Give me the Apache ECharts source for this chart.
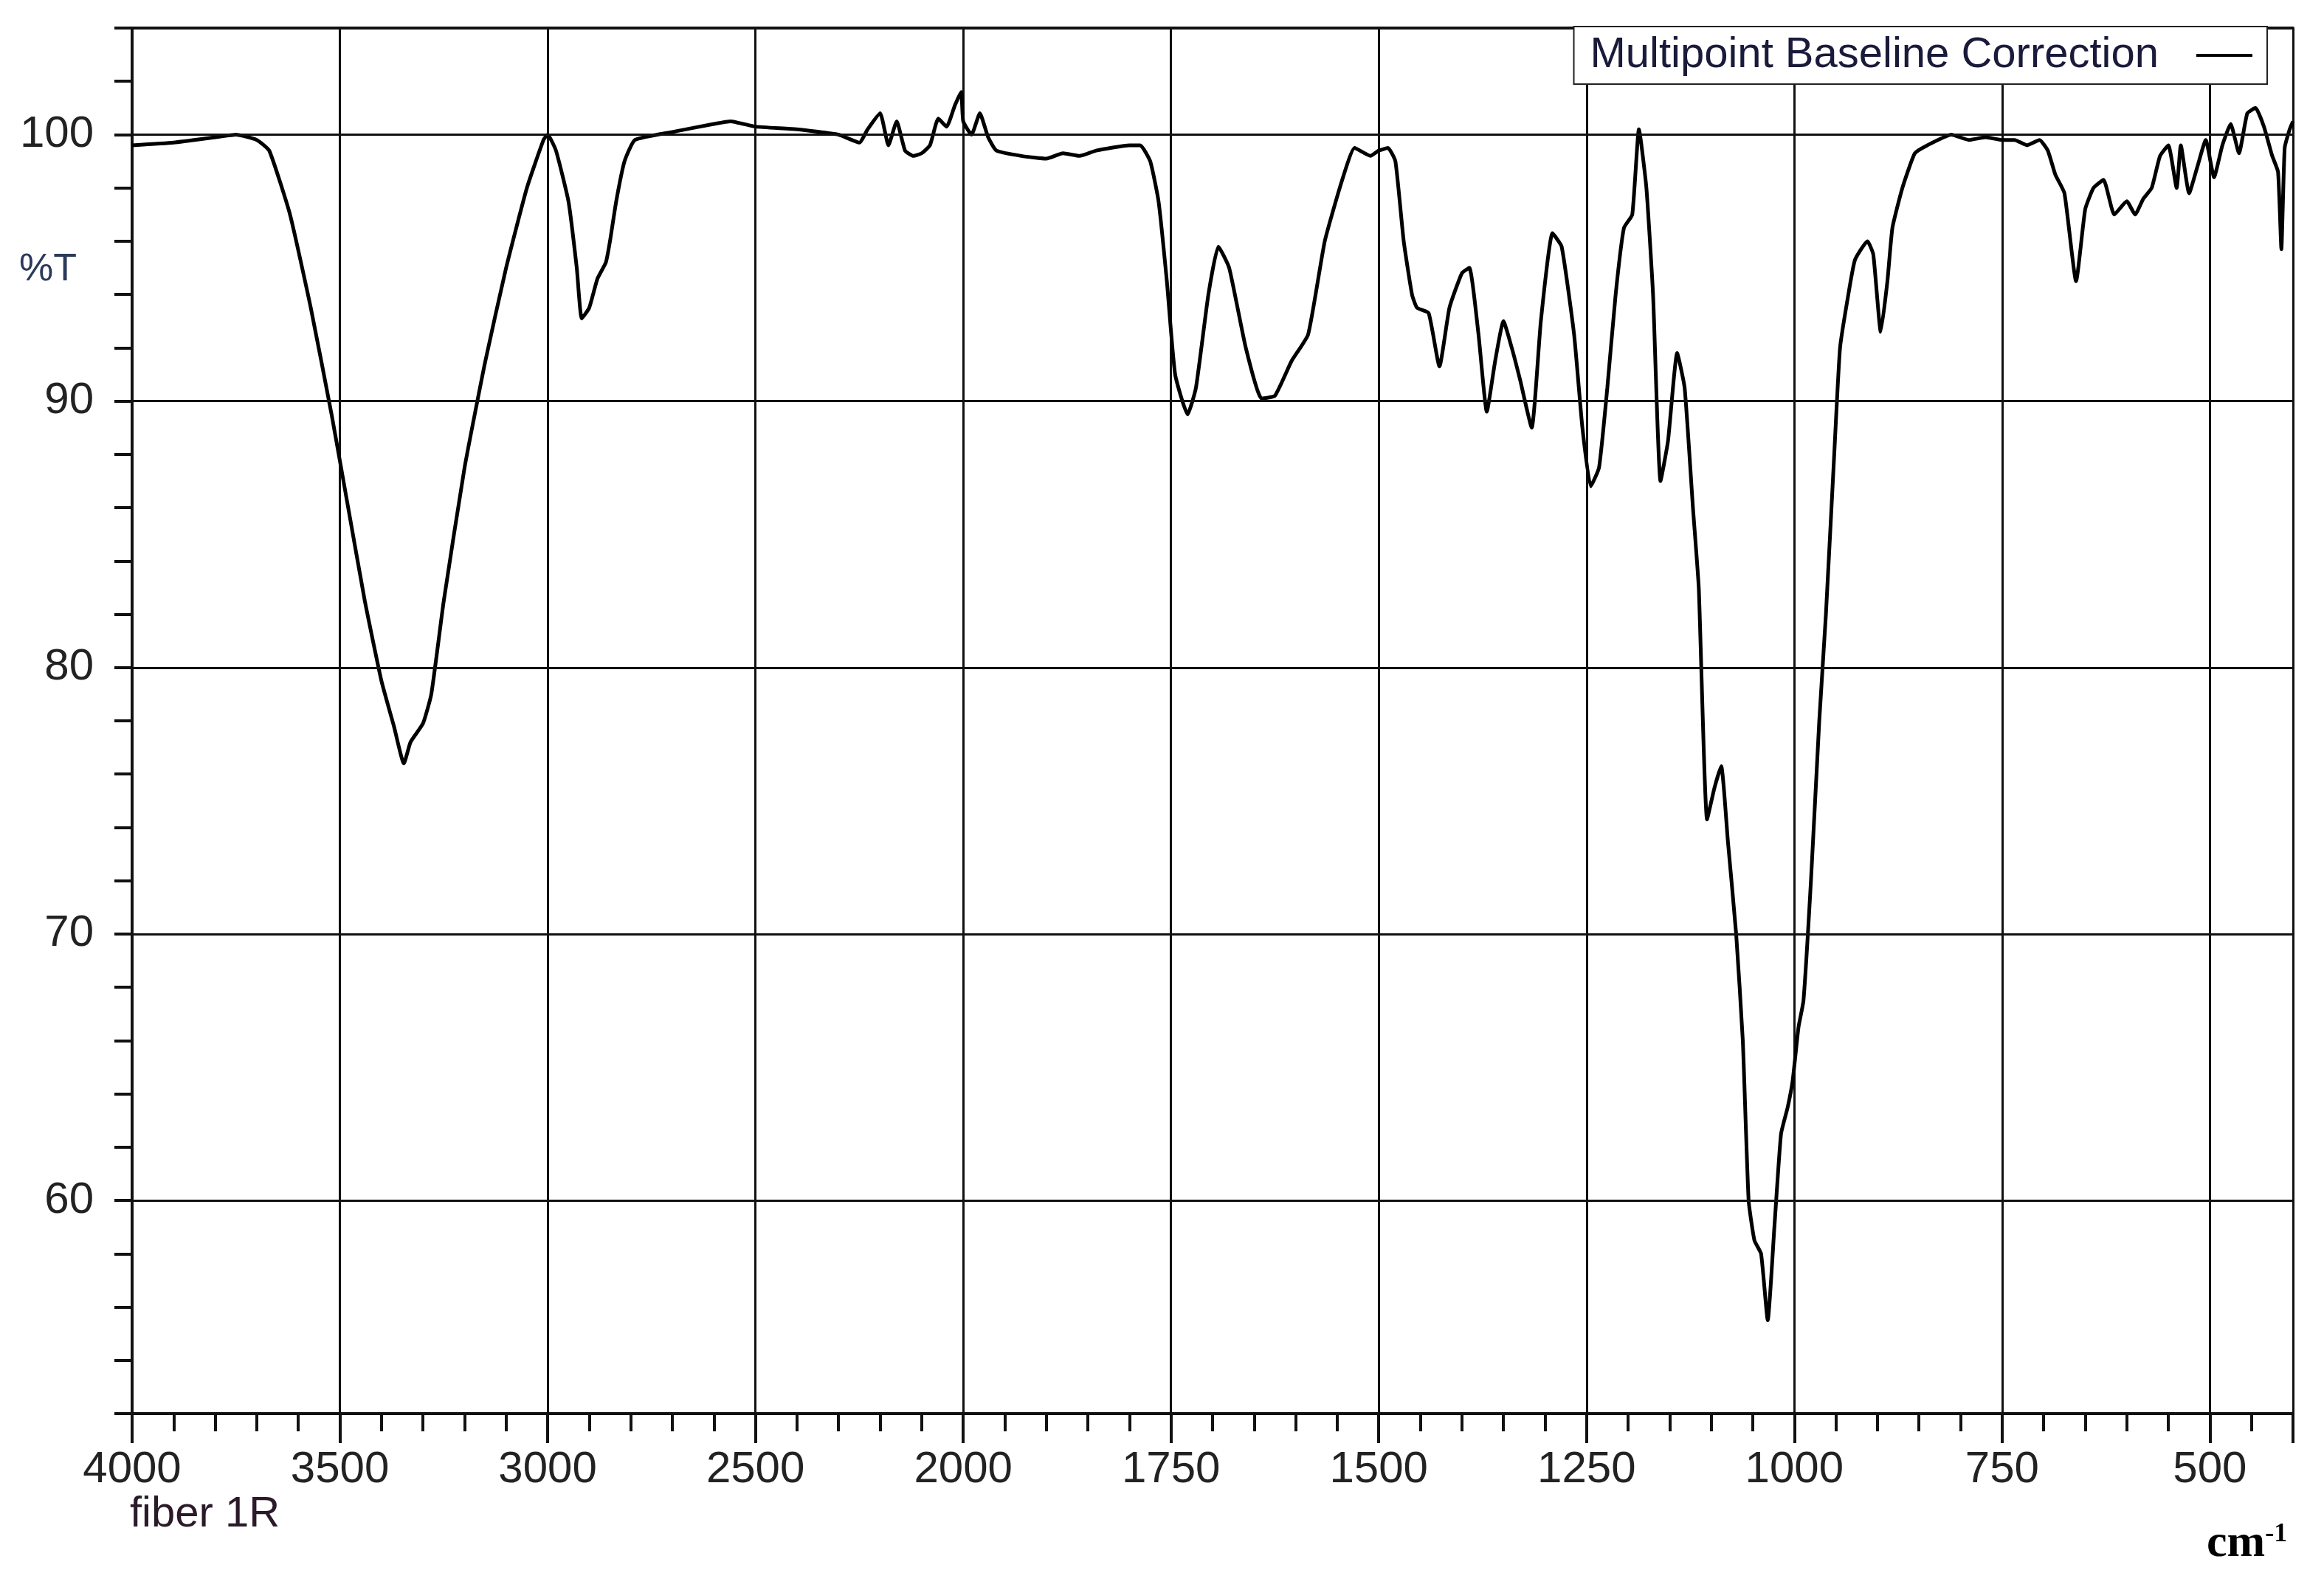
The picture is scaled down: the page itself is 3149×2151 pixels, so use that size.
<!DOCTYPE html>
<html>
<head>
<meta charset="utf-8">
<script src="https://cdn.jsdelivr.net/npm/echarts@6/dist/echarts.min.js"></script>
<style>
  html, body { margin: 0; padding: 0; background: #fff; }
  #chart { width: 3149px; height: 2151px; }
</style>
</head>
<body>
<div id="chart"></div>
<script>
// wavenumber (cm-1) and transmittance (%T)
const wavenumbers = [
  4000, 3900, 3800, 3750, 3700, 3670, 3620, 3570, 3520, 3480, 3440, 3400, 3370, 3346, 3330, 3300, 3280, 3250, 3200, 3150,
  3100, 3050, 3010, 3000, 2980, 2950, 2930, 2918, 2900, 2880, 2860, 2850, 2835, 2815, 2790, 2700, 2600, 2560, 2500, 2400,
  2300, 2250, 2230, 2200, 2180, 2160, 2140, 2120, 2100, 2080, 2060, 2040, 2020, 2005, 2000, 1990, 1980, 1970, 1960, 1930,
  1900, 1880, 1860, 1840, 1800, 1787, 1775, 1765, 1755, 1745, 1730, 1720, 1705, 1693, 1680, 1660, 1641, 1625, 1605, 1585,
  1565, 1545, 1529, 1510, 1500, 1489, 1480, 1470, 1460, 1454, 1440, 1427, 1415, 1400, 1391, 1380, 1370, 1360, 1350, 1340,
  1330, 1316, 1305, 1291, 1280, 1265, 1255, 1245, 1235, 1225, 1215, 1205, 1195, 1187, 1178, 1170, 1161, 1152, 1141, 1132,
  1122, 1115, 1105, 1096, 1088, 1080, 1070, 1062, 1055, 1048, 1040, 1032, 1024, 1016, 1008, 1002, 995, 989, 980, 970,
  962, 952, 945, 935, 927, 912, 905, 896, 888, 882, 870, 855, 840, 811, 790, 770, 750, 735, 720, 705,
  695, 686, 675, 661, 650, 640, 628, 615, 600, 590, 580, 570, 560, 550, 540, 535, 525, 515, 505, 495,
  485, 475, 465, 455, 445, 435, 425, 418, 414, 410, 404, 400
];
const transmittance = [
  99.6, 99.7, 99.9, 100.0, 99.8, 99.4, 97.0, 93.5, 89.5, 86.0, 82.5, 79.5, 77.8, 76.4, 77.2, 77.9, 79.0, 82.5, 87.5, 91.5,
  95.0, 98.0, 99.8, 100.0, 99.4, 97.5, 95.0, 93.1, 93.5, 94.6, 95.2, 96.0, 97.5, 99.0, 99.8, 100.1, 100.4, 100.5, 100.3, 100.2,
  100.0, 99.7, 100.2, 100.8, 99.6, 100.5, 99.4, 99.2, 99.3, 99.6, 100.6, 100.3, 101.1, 101.6, 100.5, 100.0, 100.8, 99.9, 99.4, 99.2,
  99.1, 99.3, 99.2, 99.4, 99.6, 99.6, 99.0, 97.5, 94.5, 91.0, 89.5, 90.5, 94.0, 95.8, 95.0, 92.0, 90.1, 90.2, 91.5, 92.5,
  96.0, 98.2, 99.5, 99.2, 99.4, 99.5, 99.0, 96.0, 94.0, 93.5, 93.3, 91.3, 93.5, 94.8, 95.0, 92.5, 89.6, 91.5, 93.0, 92.0,
  90.8, 89.0, 93.0, 96.3, 95.8, 92.5, 89.0, 86.8, 87.5, 90.5, 94.0, 96.5, 97.0, 100.2, 98.0, 94.0, 87.0, 88.5, 91.8, 90.5,
  86.0, 83.0, 74.3, 75.5, 76.3, 73.5, 70.0, 66.0, 60.0, 58.5, 58.0, 55.5, 59.0, 62.5, 63.5, 64.5, 66.5, 67.5, 72.0, 78.0,
  82.0, 88.0, 92.0, 94.0, 95.3, 96.0, 95.5, 92.6, 94.5, 96.5, 98.0, 99.3, 99.6, 100.0, 99.8, 99.9, 99.8, 99.8, 99.6, 99.8,
  99.4, 98.5, 97.8, 94.5, 97.2, 98.0, 98.3, 97.0, 97.5, 97.0, 97.6, 98.0, 99.2, 99.6, 98.0, 99.6, 97.8, 98.8, 99.8, 98.4,
  99.6, 100.4, 99.3, 100.8, 101.0, 100.3, 99.2, 98.6, 95.7, 99.5, 100.2, 100.5
];
const yTickLabels = [60, 70, 80, 90, 100];

// IR instruments plot 4000-2000 at half the scale of 2000-400
const toU = w => (w >= 2000 ? (4000 - w) / 500 : 4 + (2000 - w) / 250);
const fromU = u => (u <= 4 ? 4000 - 500 * u : 2000 - 250 * (u - 4));

const seriesData = wavenumbers.map((w, i) => [toU(w), transmittance[i]]);
const Y_MIN = 52, Y_MAX = 104;
const labelFont = 'Liberation Sans, Arial, sans-serif';

const chart = echarts.init(document.getElementById('chart'), null, { renderer: 'canvas' });
chart.setOption({
  animation: false,
  backgroundColor: '#fff',
  grid: { left: 179, right: 42, top: 38, bottom: 235 },
  legend: {
    right: 77, top: 36,
    align: 'right',
    itemWidth: 76, itemHeight: 4,
    itemGap: 0,
    padding: [10, 20, 10, 22],
    borderColor: '#222', borderWidth: 2,
    backgroundColor: '#fff',
    textStyle: { fontFamily: labelFont, fontSize: 58, color: '#1a1a3a', padding: [0, 46, 0, 0] },
    icon: 'rect',
    data: ['Multipoint Baseline Correction']
  },
  xAxis: [{
    type: 'value',
    min: 0, max: toU(400), interval: 1,
    axisLine: { lineStyle: { color: '#111', width: 4 } },
    axisTick: { length: 40, lineStyle: { color: '#111', width: 4 } },
    minorTick: { show: true, splitNumber: 5, length: 24, lineStyle: { color: '#111', width: 4 } },
    splitLine: { show: true, lineStyle: { color: '#111', width: 3 } },
    axisLabel: {
      fontFamily: labelFont, fontSize: 60, color: '#222', margin: 46,
      showMaxLabel: false,
      formatter: v => String(Math.round(fromU(v)))
    }
  }, {
    type: 'value', position: 'top',
    min: 0, max: toU(400),
    axisLine: { show: true, lineStyle: { color: '#111', width: 4 } },
    axisTick: { show: false }, axisLabel: { show: false }, splitLine: { show: false }
  }],
  yAxis: [{
    type: 'value',
    min: Y_MIN, max: Y_MAX, interval: 2,
    axisLine: { show: true, lineStyle: { color: '#111', width: 4 } },
    axisTick: { show: true, length: 24, lineStyle: { color: '#111', width: 4 } },
    splitLine: { show: false },
    axisLabel: {
      fontFamily: labelFont, fontSize: 60, color: '#222', margin: 52,
      formatter: v => (yTickLabels.includes(v) ? String(v) : '')
    }
  }, {
    type: 'value', position: 'right',
    min: Y_MIN, max: Y_MAX,
    axisLine: { show: true, lineStyle: { color: '#111', width: 4 } },
    axisTick: { show: false }, axisLabel: { show: false }, splitLine: { show: false }
  }],
  graphic: [
    { type: 'text', left: 26, top: 340, style: { text: '%T', font: '52px Liberation Sans, Arial, sans-serif', fill: '#2b3a5a' } },
    { type: 'text', left: 176, top: 2024, style: { text: 'fiber 1R', font: '58px Liberation Sans, Arial, sans-serif', fill: '#2a1a2a' } },
    { type: 'text', left: 2990, top: 2062, style: { rich: {
        a: { font: 'bold 62px Liberation Serif, Times New Roman, serif', fill: '#000' },
        b: { font: 'bold 36px Liberation Serif, Times New Roman, serif', fill: '#000', verticalAlign: 'top' }
      }, text: '{a|cm}{b|-1}' } }
  ],
  series: [{
    name: 'Multipoint Baseline Correction',
    type: 'line',
    data: seriesData,
    showSymbol: false,
    smooth: 0.15,
    lineStyle: { color: '#000', width: 5 },
    itemStyle: { color: '#000' },
    markLine: {
      silent: true, symbol: 'none',
      label: { show: false },
      lineStyle: { color: '#111', width: 3, type: 'solid' },
      data: yTickLabels.map(v => ({ yAxis: v }))
    }
  }]
});
</script>
</body>
</html>
